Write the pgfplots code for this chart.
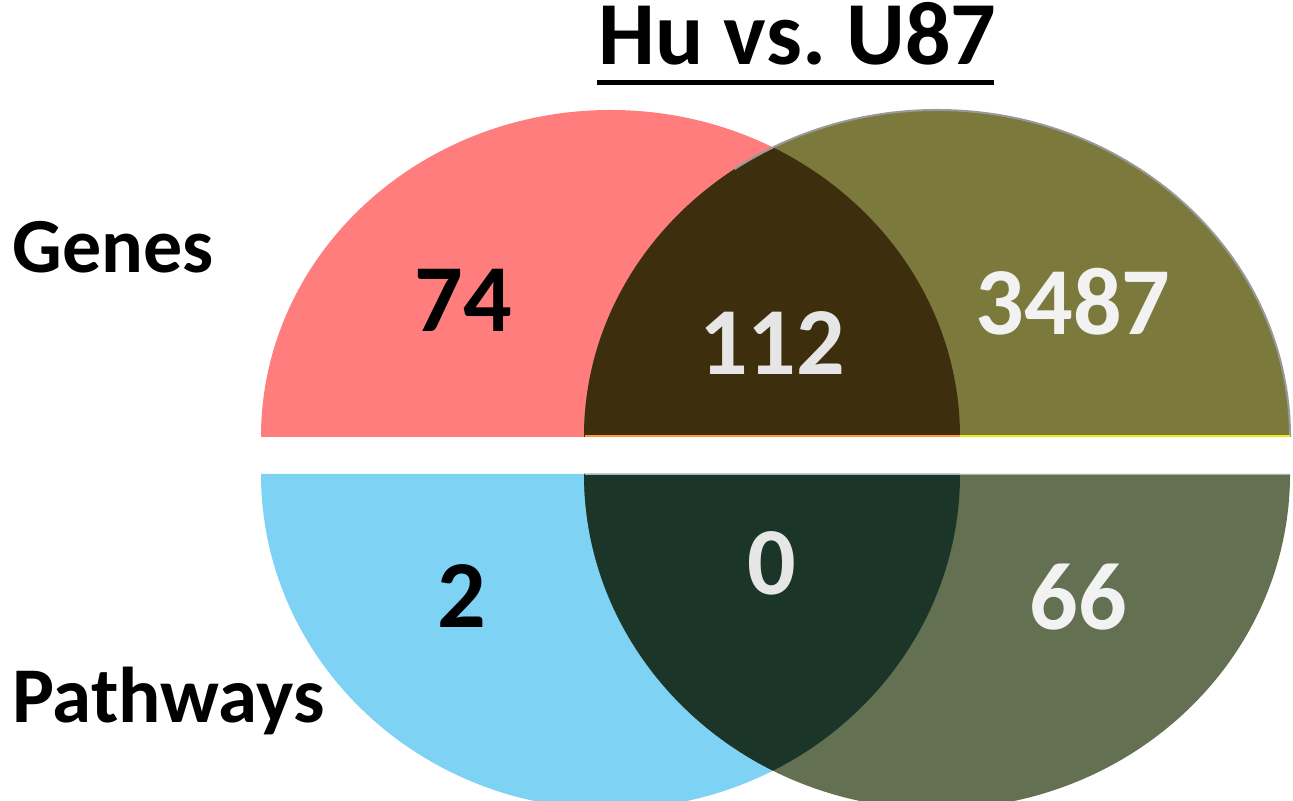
\documentclass[border=0pt]{standalone}
\usepackage{pgfplots}
\pgfplotsset{compat=1.18}
\usepackage{fontspec}
\setmainfont{Carlito}
\definecolor{pinkc}{HTML}{FF7D7D}
\definecolor{olivec}{HTML}{7C793C}
\definecolor{darkbr}{HTML}{3D2E0D}
\definecolor{bluec}{HTML}{7ED3F4}
\definecolor{greenc}{HTML}{637051}
\definecolor{darkgr}{HTML}{1B3528}
\definecolor{lightnum}{HTML}{E6E6E6}
\begin{document}
\begin{tikzpicture}
\begin{axis}[x=0.5pt,y=0.5pt,xmin=0,xmax=1293,ymin=0,ymax=801,hide axis,clip=false]
% top halves (Genes)
\fill[pinkc] (axis cs:261,364) arc[start angle=180,end angle=0,x radius=174.75pt,y radius=163.5pt] -- cycle;
\fill[olivec] (axis cs:1290,364) arc[start angle=0,end angle=180,x radius=176.5pt,y radius=163.5pt] -- cycle;
\begin{scope}
\clip (axis cs:261,364) arc[start angle=180,end angle=0,x radius=174.75pt,y radius=163.5pt] -- cycle;
\fill[darkbr] (axis cs:1290,364) arc[start angle=0,end angle=180,x radius=176.5pt,y radius=163.5pt] -- cycle;
\end{scope}
\draw[gray!80,line width=1pt] (axis cs:1290,364) arc[start angle=0,end angle=125,x radius=176.5pt,y radius=163.5pt];
\draw[orange!80,line width=1pt] (axis cs:585,364.5) -- (axis cs:960,364.5);
\draw[yellow!90!olivec,line width=1pt] (axis cs:960,364.5) -- (axis cs:1290,364.5);
% bottom halves (Pathways)
\begin{scope}
\clip (axis cs:0,0) rectangle (axis cs:1293,801);
\fill[bluec] (axis cs:261,327) arc[start angle=180,end angle=360,x radius=174.75pt,y radius=167.5pt] -- cycle;
\fill[greenc] (axis cs:1290,327) arc[start angle=360,end angle=180,x radius=176.5pt,y radius=167.5pt] -- cycle;
\clip (axis cs:261,327) arc[start angle=180,end angle=360,x radius=174.75pt,y radius=167.5pt] -- cycle;
\fill[darkgr] (axis cs:1290,327) arc[start angle=360,end angle=180,x radius=176.5pt,y radius=167.5pt] -- cycle;
\end{scope}
\draw[gray!60,line width=0.8pt] (axis cs:585,326.5) -- (axis cs:1290,326.5);
% numbers
\node[anchor=base,font=\bfseries\fontsize{48pt}{48pt}\selectfont,text=black] at (axis cs:463,469) {74};
\node[anchor=base,font=\bfseries\fontsize{48pt}{48pt}\selectfont,text=lightnum] at (axis cs:772,426) {112};
\node[anchor=base,font=\bfseries\fontsize{48pt}{48pt}\selectfont,text=white!95!black] at (axis cs:1073,466) {3487};
\node[anchor=base,font=\bfseries\fontsize{48pt}{48pt}\selectfont,text=black] at (axis cs:462,173) {2};
\node[anchor=base,font=\bfseries\fontsize{48pt}{48pt}\selectfont,text=lightnum] at (axis cs:772,206) {0};
\node[anchor=base,font=\bfseries\fontsize{48pt}{48pt}\selectfont,text=white!95!black] at (axis cs:1078,171) {66};
% labels
\node[anchor=base west,inner sep=0pt,font=\bfseries\fontsize{39pt}{39pt}\selectfont] at (axis cs:12,528) {Genes};
\node[anchor=base west,inner sep=0pt,font=\bfseries\fontsize{39.5pt}{39.5pt}\selectfont] at (axis cs:12,78) {Pathways};
\node[anchor=base west,inner sep=0pt,font=\bfseries\fontsize{45pt}{45pt}\selectfont] at (axis cs:598,736) {Hu vs.\ U87};
\draw[black,line width=2.5pt] (axis cs:597,718.5) -- (axis cs:994,718.5);
\end{axis}
\pgfresetboundingbox
\path (current axis.south west) rectangle (current axis.north east);
\end{tikzpicture}
\end{document}
